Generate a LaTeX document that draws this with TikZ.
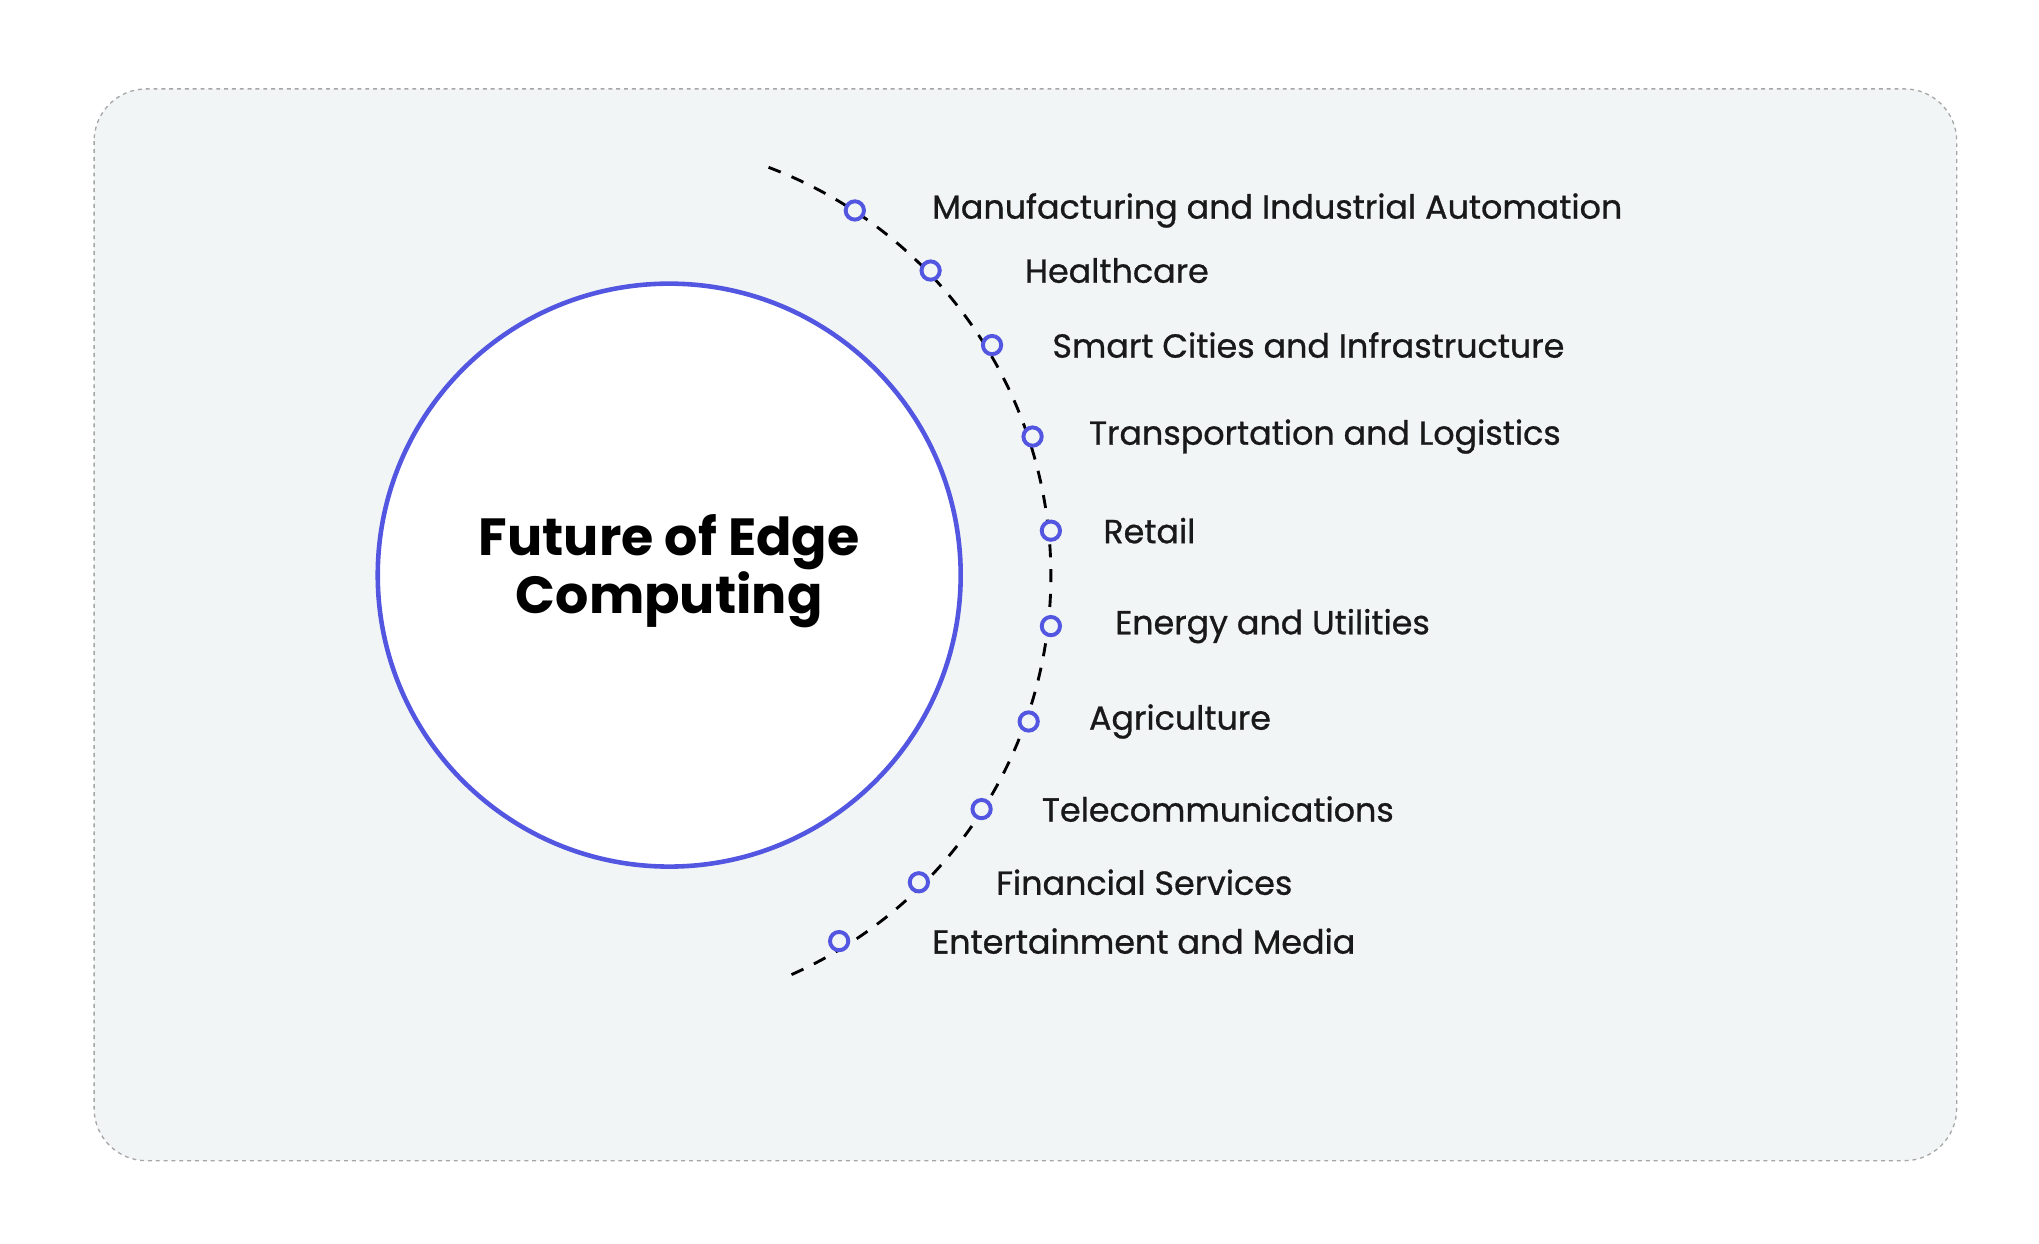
\documentclass[tikz,border=0pt]{standalone}
\usepackage{fontspec}
\setmainfont{Poppins}
\newfontfamily\labf[FakeBold=0.8]{Poppins}
\definecolor{bgc}{HTML}{F2F5F6}
\definecolor{blu}{HTML}{5256E0}
\begin{document}
\begin{tikzpicture}[x=1pt,y=-1pt,
  dotc/.style={circle,draw=blu,line width=3pt,fill=bgc,minimum size=14pt,inner sep=0pt},
  lab/.style={anchor=west,inner sep=0pt,font=\labf\fontsize{25.5}{28}\selectfont,text=black!90}]
\useasboundingbox (0,0) rectangle (1560,951);
\draw[dashed,gray!70,line width=1pt,fill=bgc,rounded corners=40pt] (72,68) rectangle (1497,888);
\node[circle,draw=blu,line width=3.5pt,fill=white,minimum size=446pt,inner sep=0pt] (c) at (512,440) {};
\node[align=center,font=\fontsize{40}{40}\selectfont\bfseries] (t) at (512,437) {Future of Edge\\Computing};
\draw[line width=2.2pt,dash pattern=on 10pt off 9pt] (588,128) arc[start angle=-69.3,end angle=67,radius=334];
\foreach \n/\x/\y/\lx/\t in {
 1/654/161/713/Manufacturing and Industrial Automation,
 2/712/207/784/Healthcare,
 3/759/264/805/Smart Cities and Infrastructure,
 4/790/334/833/Transportation and Logistics,
 5/804/406/844/Retail,
 6/804/479/853/Energy and Utilities,
 7/787/552/833/Agriculture,
 8/751/619/797/Telecommunications,
 9/703/675/762/Financial Services,
 10/642/720/713/Entertainment and Media}{
 \node[dotc] (d\n) at (\x,\y) {};
 \node[lab] (l\n) at (\lx,\y) {\t};
}
\end{tikzpicture}
\end{document}
